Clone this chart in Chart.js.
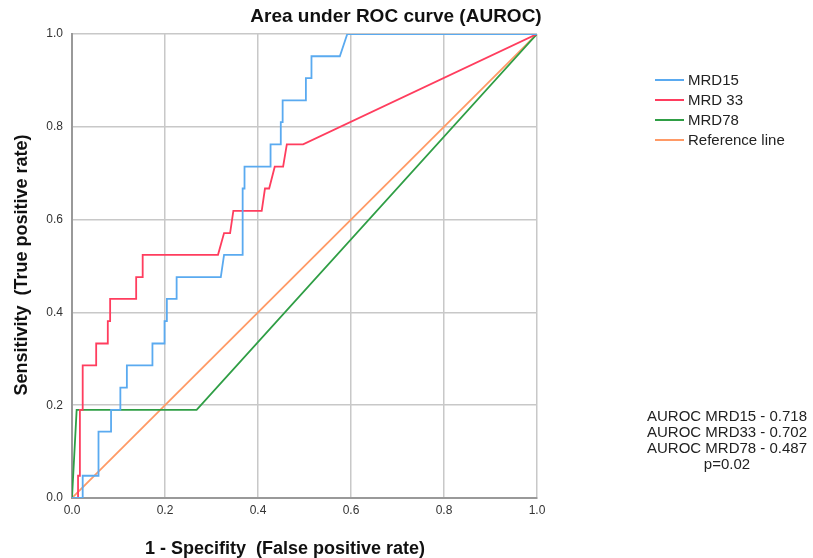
<!DOCTYPE html>
<html>
<head>
<meta charset="utf-8">
<title>Area under ROC curve (AUROC)</title>
<script src="https://cdn.jsdelivr.net/npm/chart.js@4.4.1/dist/chart.umd.min.js"></script>
<style>
    html, body { margin: 0; padding: 0; background: #ffffff; }
    #roc-chart { display: block; }
</style>
</head>
<body>
<canvas id="roc-chart" width="813" height="558"></canvas>
<script>
// ROC curve points (x = 1 - specificity, y = sensitivity)
const mrd15Fpr = [0, 0.023, 0.023, 0.057, 0.057, 0.084, 0.084, 0.104, 0.104, 0.118, 0.118, 0.173, 0.173, 0.199, 0.199, 0.204, 0.204, 0.225, 0.225, 0.320, 0.327, 0.367, 0.367, 0.371, 0.371, 0.427, 0.427, 0.449, 0.449, 0.453, 0.453, 0.503, 0.503, 0.515, 0.515, 0.576, 0.592, 1];
const mrd15Tpr = [0, 0, 0.048, 0.048, 0.143, 0.143, 0.190, 0.190, 0.238, 0.238, 0.286, 0.286, 0.333, 0.333, 0.381, 0.381, 0.429, 0.429, 0.476, 0.476, 0.524, 0.524, 0.667, 0.667, 0.714, 0.714, 0.762, 0.762, 0.810, 0.810, 0.857, 0.857, 0.905, 0.905, 0.952, 0.952, 1, 1];

const mrd33Fpr = [0, 0.013, 0.013, 0.017, 0.017, 0.023, 0.023, 0.052, 0.052, 0.077, 0.077, 0.082, 0.082, 0.138, 0.138, 0.152, 0.152, 0.314, 0.327, 0.340, 0.347, 0.408, 0.415, 0.424, 0.436, 0.454, 0.462, 0.497, 1];
const mrd33Tpr = [0, 0, 0.048, 0.048, 0.190, 0.190, 0.286, 0.286, 0.333, 0.333, 0.381, 0.381, 0.429, 0.429, 0.476, 0.476, 0.524, 0.524, 0.571, 0.571, 0.619, 0.619, 0.667, 0.667, 0.714, 0.714, 0.762, 0.762, 1];

const mrd78Fpr = [0, 0.01, 0.268, 1];
const mrd78Tpr = [0, 0.190, 0.190, 1];

const refFpr = [0, 1];
const refTpr = [0, 1];

const seriesLabels = ['MRD15', 'MRD 33', 'MRD78', 'Reference line'];
const seriesColors = ['#5aaaf0', '#ff3d5e', '#2f9e45', '#ff9a66'];

const tickValues = [0, 0.2, 0.4, 0.6, 0.8, 1.0];

const aurocNotes = ['AUROC MRD15 - 0.718', 'AUROC MRD33 - 0.702', 'AUROC MRD78 - 0.487', 'p=0.02'];

const FONT = '"Liberation Sans", Arial, sans-serif';

// Helper to zip x/y arrays into point objects
function toPoints(xs, ys) {
    return xs.map((x, i) => ({ x: x, y: ys[i] }));
}

// Fix axis box sizes so the plot area lands where it is in the picture
function fixAxis(size, key) {
    return function (scale) {
        scale[key] = size;
        scale.paddingLeft = 0;
        scale.paddingRight = 0;
        scale.paddingTop = 0;
        scale.paddingBottom = 0;
    };
}

// Title, axis titles, legend and AUROC notes drawn on the canvas
const annotations = {
    id: 'annotations',
    afterDraw(chart) {
        const ctx = chart.ctx;
        ctx.save();
        ctx.fillStyle = '#111';
        ctx.textAlign = 'center';
        ctx.textBaseline = 'middle';

        ctx.font = 'bold 19px ' + FONT;
        ctx.fillText('Area under ROC curve (AUROC)', 396, 17);

        ctx.font = 'bold 18px ' + FONT;
        ctx.fillText('1 - Specifity  (False positive rate)', 285, 549);

        ctx.save();
        ctx.translate(22, 265);
        ctx.rotate(-Math.PI / 2);
        ctx.fillText('Sensitivity  (True positive rate)', 0, 0);
        ctx.restore();

        // Legend
        ctx.textAlign = 'left';
        ctx.font = '15px ' + FONT;
        chart.data.datasets.forEach((ds, i) => {
            const y = 80 + i * 20;
            ctx.strokeStyle = ds.borderColor;
            ctx.lineWidth = 2;
            ctx.beginPath();
            ctx.moveTo(655, y);
            ctx.lineTo(684, y);
            ctx.stroke();
            ctx.fillStyle = '#222';
            ctx.fillText(ds.label, 688, y + 1);
        });

        // AUROC notes
        ctx.textAlign = 'center';
        ctx.fillStyle = '#222';
        aurocNotes.forEach((line, i) => {
            ctx.fillText(line, 727, 417 + i * 16);
        });
        ctx.restore();
    }
};

const whiteBackground = {
    id: 'whiteBackground',
    beforeDraw(chart) {
        const ctx = chart.ctx;
        ctx.save();
        ctx.fillStyle = '#ffffff';
        ctx.fillRect(0, 0, chart.width, chart.height);
        ctx.restore();
    }
};

const xs = [mrd15Fpr, mrd33Fpr, mrd78Fpr, refFpr];
const ys = [mrd15Tpr, mrd33Tpr, mrd78Tpr, refTpr];

const datasets = seriesLabels.map((label, i) => ({
    label: label,
    data: toPoints(xs[i], ys[i]),
    borderColor: seriesColors[i],
    backgroundColor: seriesColors[i],
    borderWidth: 1.8,
    pointRadius: 0,
    showLine: true,
    tension: 0,
    fill: false
}));

const ctx = document.getElementById('roc-chart').getContext('2d');
new Chart(ctx, {
    type: 'scatter',
    data: { datasets: datasets },
    plugins: [whiteBackground, annotations],
    options: {
        responsive: false,
        animation: false,
        devicePixelRatio: 1,
        layout: {
            padding: { top: 34, right: 276, bottom: 0, left: 0 }
        },
        plugins: {
            legend: { display: false },
            title: { display: false },
            tooltip: { enabled: false }
        },
        scales: {
            x: {
                type: 'linear',
                min: 0,
                max: 1,
                afterFit: fixAxis(60, 'height'),
                afterBuildTicks: scale => { scale.ticks = tickValues.map(v => ({ value: v })); },
                ticks: {
                    color: '#333',
                    font: { family: FONT, size: 12 },
                    padding: 5,
                    maxRotation: 0,
                    callback: v => v.toFixed(1)
                },
                grid: { color: '#c8c8c8', lineWidth: 1.5, drawTicks: false },
                border: { color: '#999', width: 2 }
            },
            y: {
                type: 'linear',
                min: 0,
                max: 1,
                afterFit: fixAxis(72, 'width'),
                afterBuildTicks: scale => { scale.ticks = tickValues.map(v => ({ value: v })); },
                ticks: {
                    color: '#333',
                    font: { family: FONT, size: 12 },
                    padding: 9,
                    callback: v => v.toFixed(1)
                },
                grid: { color: '#c8c8c8', lineWidth: 1.5, drawTicks: false },
                border: { color: '#999', width: 2 }
            }
        }
    }
});
</script>
</body>
</html>
